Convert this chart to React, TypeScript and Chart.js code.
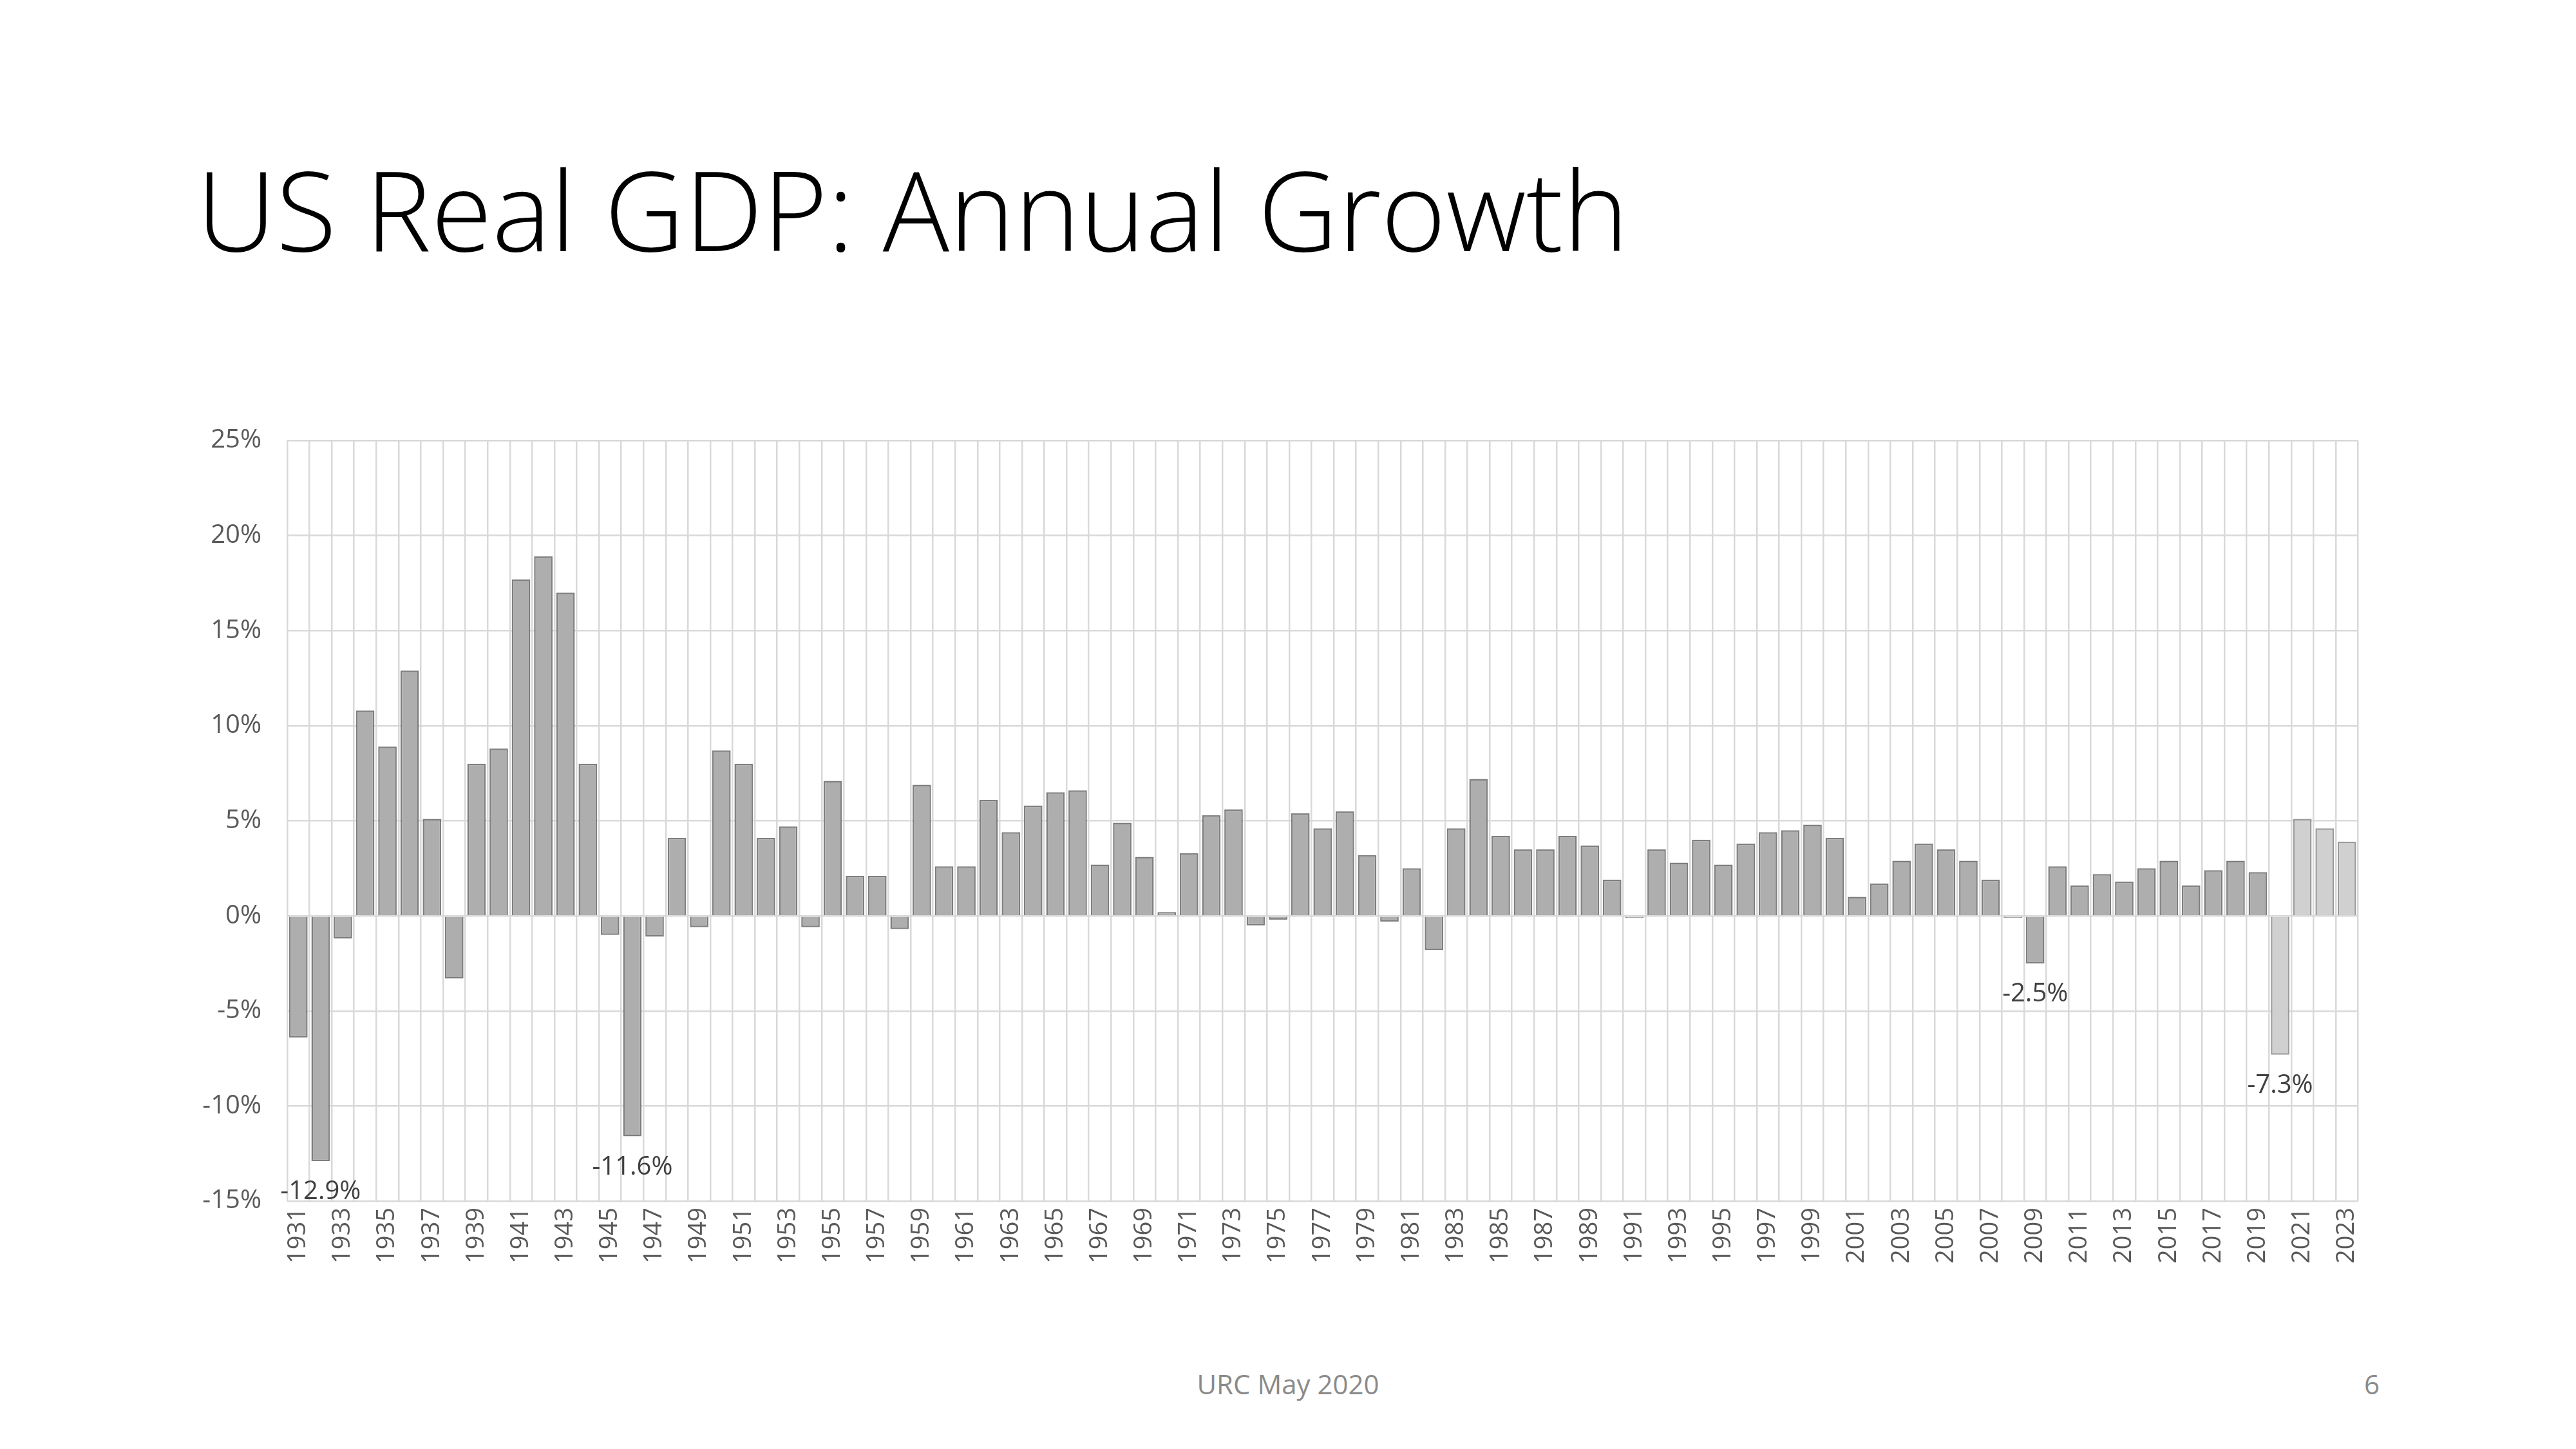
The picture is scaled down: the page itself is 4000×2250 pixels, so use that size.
import React, { useEffect, useRef } from "react";
import { Chart, registerables } from "chart.js";
Chart.register(...registerables);

const years: string[] = [];
for (let y = 1931; y <= 2023; y++) years.push(String(y));

const growth = [
  -6.4, -12.9, -1.2, 10.8, 8.9, 12.9, 5.1, -3.3, 8.0, 8.8,
  17.7, 18.9, 17.0, 8.0, -1.0, -11.6, -1.1, 4.1, -0.6, 8.7,
  8.0, 4.1, 4.7, -0.6, 7.1, 2.1, 2.1, -0.7, 6.9, 2.6,
  2.6, 6.1, 4.4, 5.8, 6.5, 6.6, 2.7, 4.9, 3.1, 0.2,
  3.3, 5.3, 5.6, -0.5, -0.2, 5.4, 4.6, 5.5, 3.2, -0.3,
  2.5, -1.8, 4.6, 7.2, 4.2, 3.5, 3.5, 4.2, 3.7, 1.9,
  -0.1, 3.5, 2.8, 4.0, 2.7, 3.8, 4.4, 4.5, 4.8, 4.1,
  1.0, 1.7, 2.9, 3.8, 3.5, 2.9, 1.9, -0.1, -2.5, 2.6,
  1.6, 2.2, 1.8, 2.5, 2.9, 1.6, 2.4, 2.9, 2.3, -7.3,
  5.1, 4.6, 3.9,
];

const labelledYears = ["1932", "1946", "2009", "2020"];
const forecastFrom = "2020";

export default function App() {
  const ref = useRef<HTMLCanvasElement>(null);
  useEffect(() => {
    const fIdx = years.indexOf(forecastFrom);
    const labelPlugin = {
      id: "lbl",
      afterDatasetsDraw(chart: any) {
        const ctx = chart.ctx;
        const meta = chart.getDatasetMeta(0);
        ctx.save();
        ctx.font = "40px 'Open Sans'";
        ctx.fillStyle = "#404040";
        ctx.textAlign = "center";
        ctx.textBaseline = "middle";
        labelledYears.forEach((y) => {
          const i = years.indexOf(y);
          const el = meta.data[i];
          const v = growth[i];
          ctx.fillText(v.toFixed(1) + "%", el.x, el.y + 48);
        });
        ctx.restore();
      },
    };
    const chart = new Chart(ref.current!, {
      type: "bar",
      data: {
        labels: years,
        datasets: [
          {
            data: growth,
            backgroundColor: years.map((_, i) => (i >= fIdx ? "#D0D0D0" : "#AEAEAE")),
            borderColor: years.map((_, i) => (i >= fIdx ? "#9A9A9A" : "#7F7F7F")),
            borderWidth: 2.5,
            categoryPercentage: 0.83,
            barPercentage: 1,
          },
        ],
      },
      options: {
        animation: false,
        responsive: false,
        layout: { padding: { top: 28, right: 21, left: 0, bottom: 0 } },
        plugins: { legend: { display: false }, tooltip: { enabled: false } },
        scales: {
          x: {
            grid: { color: "#D9D9D9", lineWidth: 2.5, offset: true, drawTicks: false },
            border: { display: false },
            ticks: {
              color: "#595959",
              font: { size: 38, family: "'Open Sans'" },
              minRotation: 90,
              maxRotation: 90,
              autoSkip: false,
              padding: 10,
              callback: (v: any, i: number) => (i % 2 === 0 ? years[i] : ""),
            },
            afterFit: (s: any) => { s.height = 150; },
          },
          y: {
            min: -15,
            max: 25,
            grid: { color: "#D9D9D9", lineWidth: 2.5, drawTicks: false },
            border: { display: false },
            ticks: {
              stepSize: 5,
              color: "#595959",
              font: { size: 40, family: "'Open Sans'" },
              padding: 40,
              callback: (v: any) => v + "%",
            },
            afterFit: (s: any) => { s.width = 146; },
          },
        },
      },
      plugins: [labelPlugin],
    });
    return () => chart.destroy();
  }, []);

  return (
    <div style={{ position: "absolute", left: 0, top: 0, width: 4000, height: 2250, background: "#fff", fontFamily: "'Open Sans'" }}>
      <div style={{ position: "absolute", left: 305, top: 220, fontSize: 172, fontWeight: 300, color: "#000", whiteSpace: "nowrap", lineHeight: 1.2 }}>
        US Real GDP: Annual Growth
      </div>
      <canvas ref={ref} width={3400} height={1395} style={{ position: "absolute", left: 300, top: 620, width: 3400, height: 1395 }} />
      <div style={{ position: "absolute", left: 0, width: 4000, top: 2120, textAlign: "center", fontSize: 42, color: "#8A8A8A" }}>
        URC May 2020
      </div>
      <div style={{ position: "absolute", right: 4000 - 3695, top: 2120, fontSize: 42, color: "#8A8A8A" }}>6</div>
    </div>
  );
}
